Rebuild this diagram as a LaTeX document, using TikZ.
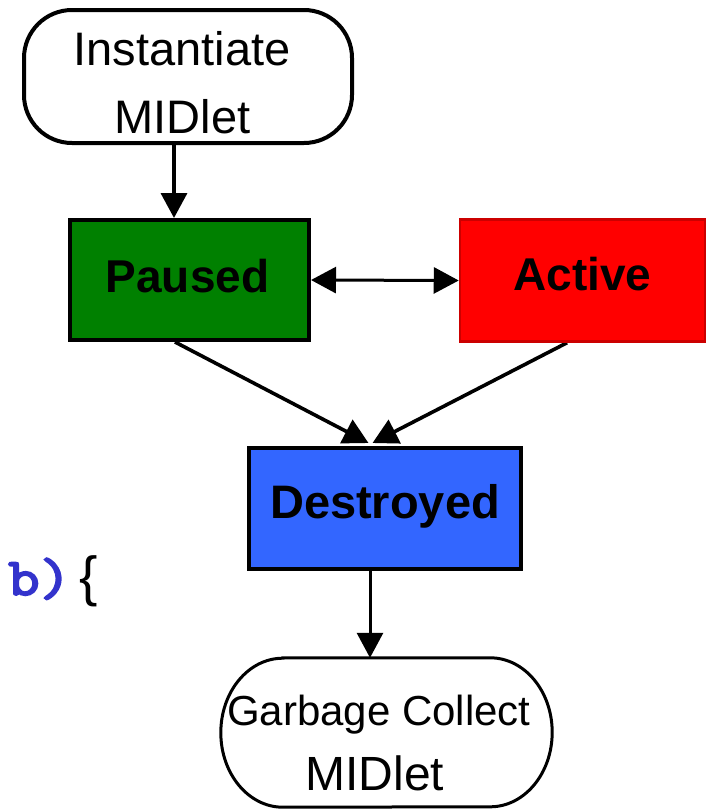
\documentclass[tikz,border=0pt]{standalone}
\usepackage{fontspec}
\setmainfont{Liberation Sans}
\newfontfamily\codefont[FakeBold=3.5]{Latin Modern Mono}
\usetikzlibrary{arrows.meta}
\pgfdeclarelayer{bg}
\pgfsetlayers{bg,main}
\definecolor{pausedgreen}{RGB}{0,128,0}
\definecolor{activered}{RGB}{255,0,0}
\definecolor{activeedge}{RGB}{204,0,0}
\definecolor{destroyblue}{RGB}{51,102,255}
\definecolor{codeblue}{RGB}{51,51,204}
\begin{document}
\begin{tikzpicture}[x=1pt,y=-1pt,
  statebox/.style={draw=black, line width=4pt, inner sep=0pt},
  termbox/.style={draw=black, line width=4pt, inner sep=0pt, rounded corners=48pt},
  plainlbl/.style={anchor=base, inner sep=0pt, font=\fontsize{47}{56}\selectfont},
  boldlbl/.style={anchor=base, inner sep=0pt, font=\fontsize{46}{56}\selectfont\bfseries},
  flow/.style={line width=3.6pt, -{Triangle[length=25pt,width=26pt]}},
  twoway/.style={line width=3pt, {Triangle[length=25pt,width=26pt]}-{Triangle[length=25pt,width=26pt]}}]
\useasboundingbox (0,0) rectangle (708,811);

% start terminal
\node[termbox, minimum width=328pt, minimum height=133pt] (inst) at (188,76.5) {};
\node[plainlbl] (instA) at (182,65) {Instantiate};
\node[plainlbl] (instB) at (182.5,133) {MIDlet};

% states
\node[statebox, fill=pausedgreen, minimum width=239pt, minimum height=120pt] (paused) at (189.5,280) {};
\node[boldlbl] (pausedLbl) at (187.5,292) {Paused};

\node[statebox, draw=activeedge, line width=2.5pt, fill=activered, minimum width=245pt, minimum height=122pt] (active) at (582.5,280.5) {};
\node[boldlbl] (activeLbl) at (582.5,290) {Active};

\node[statebox, fill=destroyblue, minimum width=272pt, minimum height=121pt] (destroyed) at (385,508.5) {};
\node[boldlbl, font=\fontsize{47}{56}\selectfont\bfseries] (destroyedLbl) at (385,518) {Destroyed};

% end terminal
\node[inner sep=0pt, minimum width=331pt, minimum height=149pt] (gc) at (386.5,732.5) {};
\draw[line width=3pt]
  ([xshift=62pt]gc.north west) -- ([xshift=-62pt]gc.north east)
  arc[start angle=90, end angle=-90, x radius=62pt, y radius=74.5pt]
  -- ([xshift=62pt]gc.south west)
  arc[start angle=-90, end angle=-270, x radius=62pt, y radius=74.5pt] -- cycle;
\node[plainlbl, font=\fontsize{42}{50}\selectfont] (gcA) at (379,725) {Garbage Collect};
\node[plainlbl, font=\fontsize{48}{56}\selectfont] (gcB) at (375,790) {MIDlet};

% code fragment on the left
\node[anchor=base west, inner sep=0pt, xscale=1.15, text=codeblue, font=\codefont\fontsize{53}{56}\selectfont] (codeB) at (8,595) {b)};
\node[anchor=base west, inner sep=0pt, font=\fontsize{55}{60}\selectfont] (brace) at (79,595.5) {\{};

% transitions, kept beneath the boxes
\begin{pgfonlayer}{bg}
  \draw[flow] ([xshift=-14pt]inst.south) -- ([xshift=-15.5pt]paused.north);
  \draw[twoway] (paused.east) -- (active.west);
  \coordinate (inL) at ([xshift=-16.5pt,yshift=3pt]destroyed.north);
  \coordinate (inR) at ([xshift=-12.5pt,yshift=3pt]destroyed.north);
  \draw[flow] ([xshift=-14.5pt]paused.south) -- (inL);
  \draw[flow] ([xshift=-15.5pt]active.south) -- (inR);
  \draw[flow, line width=3pt] ([xshift=-15pt]destroyed.south) -- ([xshift=-16.5pt]gc.north);
\end{pgfonlayer}
\end{tikzpicture}
\end{document}
